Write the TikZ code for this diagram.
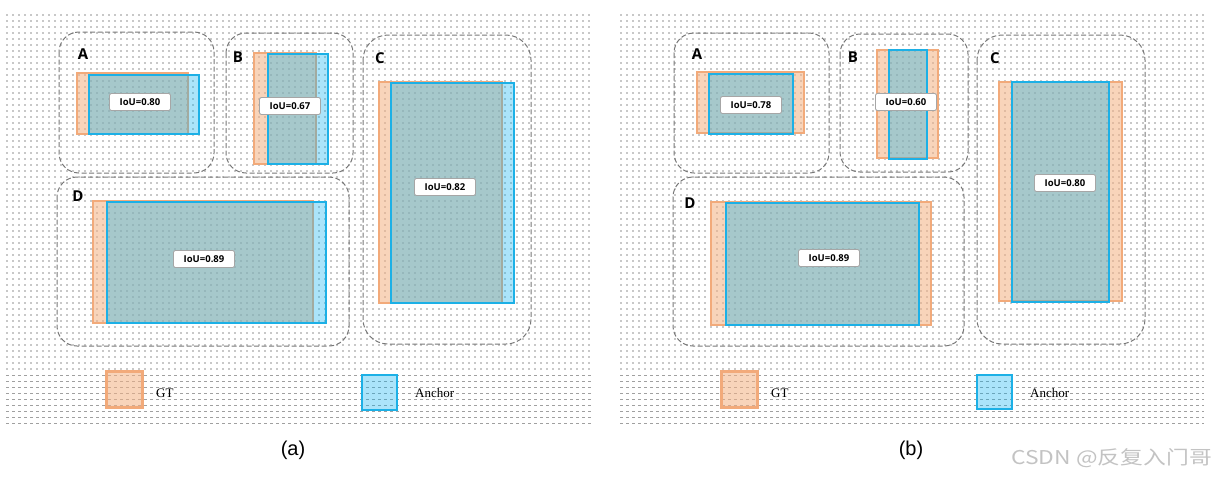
\documentclass[tikz,border=0pt]{standalone}
\usepackage{fontspec}
\setmainfont{Liberation Serif}
\newfontfamily\labfont{Open Sans}
\newfontfamily\capfont{Liberation Sans}
\newfontfamily\cjkfont{Noto Sans CJK SC}
\definecolor{gtc}{RGB}{244,177,131}
\definecolor{gtl}{RGB}{242,170,122}
\definecolor{anc}{RGB}{0,176,240}
\definecolor{ancl}{RGB}{28,176,230}
\definecolor{dotc}{RGB}{200,200,200}
\definecolor{dotd}{RGB}{160,160,160}
\definecolor{framec}{RGB}{120,120,120}
\definecolor{wmc}{RGB}{195,195,195}
\begin{document}
\begin{tikzpicture}[x=1pt,y=-1pt,
 updots/.style={dotc, line width=1.4pt, dash pattern=on 1.6pt off 4.4pt},
 lowdots/.style={dotd, line width=0.9pt, dash pattern=on 2.5pt off 3.5pt},
 group/.style={framec, line width=1pt, dash pattern=on 5pt off 2.5pt, rounded corners=20pt},
 gtbox/.style={draw=gtl, line width=2pt, fill=gtc, fill opacity=0.55},
 ancbox/.style={draw=ancl, line width=1.5pt, fill=anc, fill opacity=0.33},
 gtleg/.style={draw=gtl, line width=3pt, fill=gtc, fill opacity=0.55},
 ancleg/.style={draw=ancl, line width=1.8pt, fill=anc, fill opacity=0.33},
 iou/.style={draw=gray!70, fill=white, rounded corners=2pt, line width=0.9pt, minimum width=61pt, minimum height=17pt, inner sep=0pt, font=\labfont\bfseries\fontsize{9.5}{10}\selectfont},
 letter/.style={font=\labfont\bfseries\fontsize{15}{16}\selectfont, inner sep=0pt},
 legtext/.style={font=\fontsize{13}{14}\selectfont, inner sep=0pt, anchor=west},
 captext/.style={font=\capfont\fontsize{20}{22}\selectfont, inner sep=0pt},
 wmark/.style={font=\cjkfont\fontsize{19}{21}\selectfont, text=wmc, inner sep=0pt, anchor=east}
]
\fill[white] (0,0) rectangle (1218,477);
\useasboundingbox (0,0) rectangle (1218,477);
% dotted backgrounds
\foreach \xa/\xb in {6/591, 620/1204} {
  \foreach \k in {0,...,59} \draw[updots] (\xa,15+6*\k) -- (\xb,15+6*\k);
  \foreach \k in {60,...,68} \draw[lowdots] (\xa,15+6*\k) -- (\xb,15+6*\k);
}
% ---------------- panel (a) ----------------
\draw[group] (59,32) rectangle (214,173);
\node[letter] (aA) at (83,54) {A};
\draw[gtbox] (77,73) rectangle (188,134);
\draw[ancbox] (89,75) rectangle (199,134);
\node[iou] (aiouA) at (140,102) {IoU=0.80};

\draw[group] (226,33) rectangle (353,173);
\node[letter] (aB) at (238,57) {B};
\draw[gtbox] (254,53) rectangle (316,164);
\draw[ancbox] (268,54) rectangle (328,164);
\node[iou] (aiouB) at (290,106) {IoU=0.67};

\draw[group] (57,177) rectangle (349,346);
\node[letter] (aD) at (78,196) {D};
\draw[gtbox] (93,201) rectangle (313,323);
\draw[ancbox] (107,202) rectangle (326,323);
\node[iou] (aiouD) at (204,259) {IoU=0.89};

\draw[group, rounded corners=25pt] (363,35) rectangle (531,344);
\node[letter] (aC) at (380,58) {C};
\draw[gtbox] (379,82) rectangle (502,303);
\draw[ancbox] (391,83) rectangle (514,303);
\node[iou] (aiouC) at (445,187) {IoU=0.82};

\draw[gtleg] (106,371) rectangle (142,407);
\node[legtext] (agt) at (156,393) {GT};
\draw[ancleg] (362,375) rectangle (397,410);
\node[legtext] (aanc) at (415,393) {Anchor};
\node[captext] (acap) at (293,450) {(a)};

% ---------------- panel (b) ----------------
\draw[group] (674,33) rectangle (829,173);
\node[letter] (bA) at (697,54) {A};
\draw[gtbox] (697,72) rectangle (804,133);
\draw[ancbox] (709,74) rectangle (793,134);
\node[iou] (biouA) at (751,105) {IoU=0.78};

\draw[group] (840,34) rectangle (968,172);
\node[letter] (bB) at (853,57) {B};
\draw[gtbox] (877,50) rectangle (938,158);
\draw[ancbox] (889,50) rectangle (927,159);
\node[iou] (biouB) at (906,102) {IoU=0.60};

\draw[group] (673,177) rectangle (964,346);
\node[letter] (bD) at (690,203) {D};
\draw[gtbox] (711,202) rectangle (931,325);
\draw[ancbox] (726,203) rectangle (919,325);
\node[iou] (biouD) at (829,258) {IoU=0.89};

\draw[group, rounded corners=25pt] (977,35) rectangle (1145,344);
\node[letter] (bC) at (995,58) {C};
\draw[gtbox] (999,82) rectangle (1122,301);
\draw[ancbox] (1012,82) rectangle (1109,302);
\node[iou] (biouC) at (1065,183) {IoU=0.80};

\draw[gtleg] (721,371) rectangle (757,407);
\node[legtext] (bgt) at (771,393) {GT};
\draw[ancleg] (977,375) rectangle (1012,409);
\node[legtext] (banc) at (1030,393) {Anchor};
\node[captext] (bcap) at (911,450) {(b)};

\node[wmark] (wm) at (1212,458) {\scalebox{1.2}[1]{CSDN @反复入门哥}};
\end{tikzpicture}
\end{document}
